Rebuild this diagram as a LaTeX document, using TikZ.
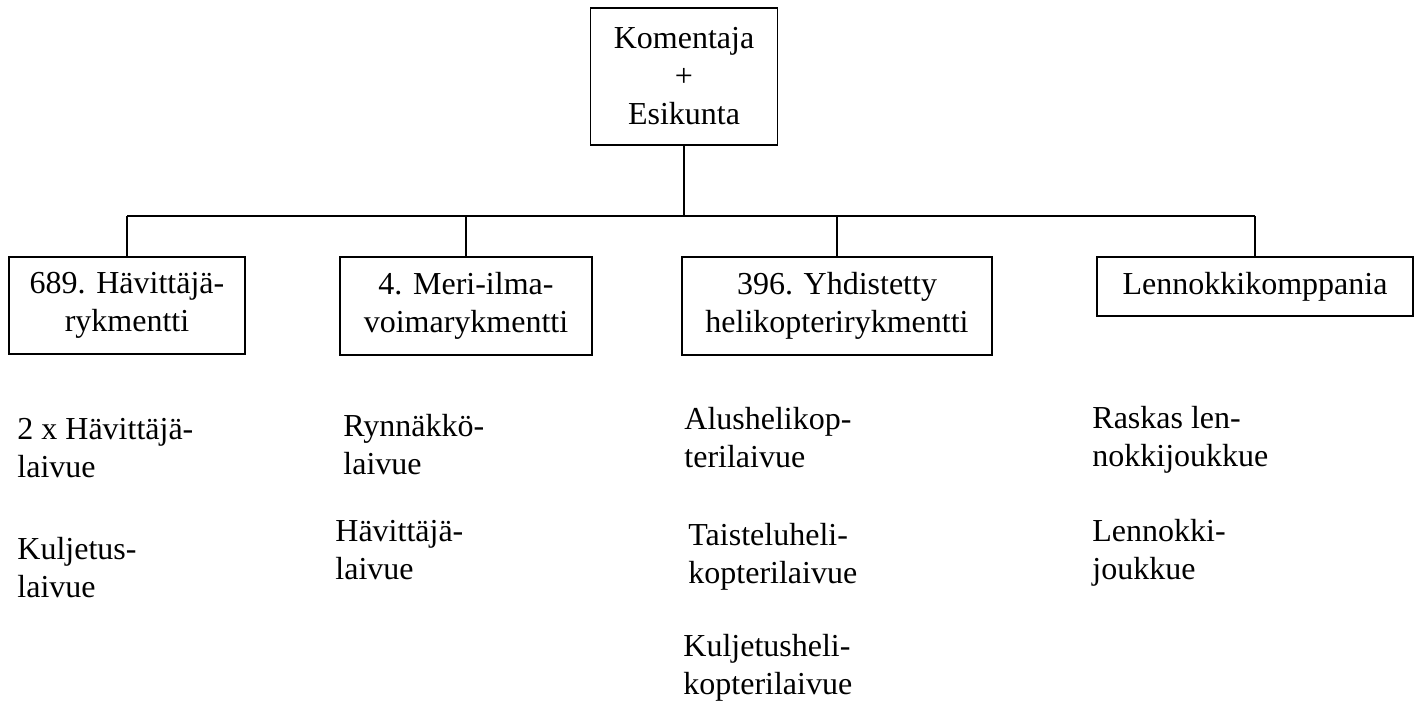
\documentclass[tikz,border=0pt]{standalone}
\usepackage{fontspec}
\setmainfont{Liberation Serif}
\usepackage{tikz}
\usetikzlibrary{positioning}
\tikzset{
  % Laatikot
  unitbox/.style  = {draw, line width=0.8pt, align=center, inner sep=0pt,
                     font=\fontsize{16}{19}\selectfont},
  % Yhdysviivat
  orgline/.style  = {line width=0.8pt},
  % Alayksikot (ankkuri = viimeisen rivin perusviiva)
  subunit/.style  = {anchor=base west, align=left, inner sep=0pt,
                     font=\fontsize{16}{19}\selectfont},
}
\begin{document}
\begin{tikzpicture}[x=0.5pt,y=-0.5pt]
  \useasboundingbox (0,0) rectangle (1420,705);
  % Johto
  \node[unitbox, minimum width=93.5pt, minimum height=68.5pt] (hq) at (684,76.5)
    {Komentaja\\+\\Esikunta};
  % Rykmentit
  \node[unitbox, minimum width=118pt, minimum height=48.5pt] (r689) at (127,305.5)
    {689. Hävittäjä-\\rykmentti};
  \node[unitbox, minimum width=126pt, minimum height=49pt] (r4) at (466,306)
    {4. Meri-ilma-\\voimarykmentti};
  \node[unitbox, minimum width=155pt, minimum height=49pt] (r396) at (837,306)
    {396. Yhdistetty\\helikopterirykmentti};
  \node[unitbox, minimum width=158pt, minimum height=29.5pt] (lkk) at (1255,286.5)
    {Lennokkikomppania};
  % Kisko
  \coordinate (bus) at (684,216);
  \draw[orgline] (hq.south) -- (bus);
  \draw[orgline] (r689.north |- bus) -- (lkk.north |- bus);
  \foreach \u in {r689,r4,r396,lkk}
    \draw[orgline] (\u.north) -- (\u.north |- bus);
  % Laivueet
  \node[subunit] (s1a) at (17,478) {2 x Hävittäjä-\\laivue};
  \node[subunit] (s1b) at (17,597) {Kuljetus-\\laivue};
  \node[subunit] (s2a) at (343,475) {Rynnäkkö-\\laivue};
  \node[subunit] (s2b) at (335,580) {Hävittäjä-\\laivue};
  \node[subunit] (s3a) at (684,468) {Alushelikop-\\terilaivue};
  \node[subunit] (s3b) at (688,584) {Taisteluheli-\\kopterilaivue};
  \node[subunit] (s3c) at (683,694) {Kuljetusheli-\\kopterilaivue};
  \node[subunit] (s4a) at (1092,467) {Raskas len-\\nokkijoukkue};
  \node[subunit] (s4b) at (1092,580) {Lennokki-\\joukkue};
\end{tikzpicture}
\end{document}
